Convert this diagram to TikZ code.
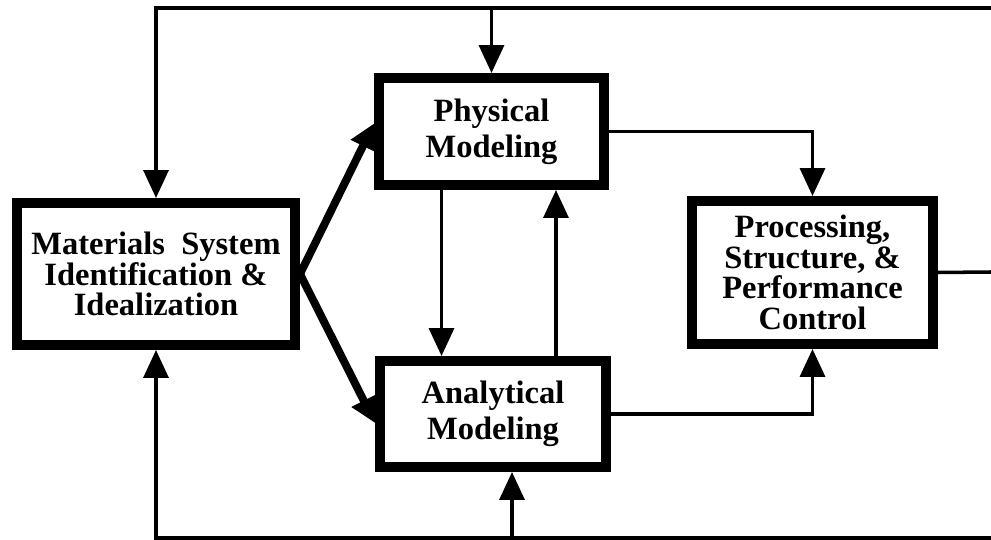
\documentclass[tikz,border=0pt]{standalone}
\usepackage{fontspec}
\setmainfont{Liberation Serif}
\usetikzlibrary{arrows.meta}

\tikzset{
  block/.style={draw, line width=5.7pt, inner sep=0pt, align=center,
    font=\fontsize{18.5}{17.5}\selectfont\bfseries},
  pair/.style={font=\fontsize{18.5}{20.5}\selectfont\bfseries},
  feed/.style={line width=2pt},
  link/.style={feed, -{Triangle[length=0.56cm,width=0.5cm]}},
  fork/.style={line width=4.5pt, -{Triangle[length=0.5cm,width=0.52cm]}}
}

\begin{document}
\begin{tikzpicture}[x=0.02cm,y=-0.02cm]
\useasboundingbox (0,0) rectangle (991,540);
% boxes
\node[block, minimum width=5.56cm, minimum height=2.84cm] (mat) at (156,274)
  {Materials\ \ System\\Identification \&\\Idealization};
\node[block, pair, minimum width=4.5cm, minimum height=2.14cm] (phys) at (491.5,131.5)
  {Physical\\Modeling};
\node[block, pair, minimum width=4.52cm, minimum height=2.12cm] (anal) at (493,414)
  {Analytical\\Modeling};
\node[block, minimum width=4.82cm, minimum height=2.86cm] (proc) at (812.5,272.5)
  {Processing,\\Structure, \&\\Performance\\Control};
% free ends at the right and bottom edges
\coordinate (topR) at (991,8);
\coordinate (botR) at (991,538);
\coordinate (procR) at (991,272);
\coordinate (botA) at (512,538);
% outer loop
\draw[link] (topR) -| (mat.north);
\draw[link] (phys.north |- topR) -- (phys.north);
\draw[link] (botR) -| (mat.south);
\draw[link] (botA) -- (botA |- anal.south);
\draw[feed] (proc.east) -- (procR);
% forks
\draw[fork] (mat.east) -- ([yshift=0.16cm]phys.west);
\draw[fork] (mat.east) -- ([yshift=-0.18cm]anal.west);
% between the models
\draw[link] ([xshift=-1cm]phys.south) -- ([xshift=-1cm]phys.south |- anal.north);
\draw[link] ([xshift=1.26cm]anal.north) -- ([xshift=1.26cm]anal.north |- phys.south);
% to the control box
\draw[link] (phys.east) -| (proc.north);
\draw[link] (anal.east) -| (proc.south);
\end{tikzpicture}
\end{document}
